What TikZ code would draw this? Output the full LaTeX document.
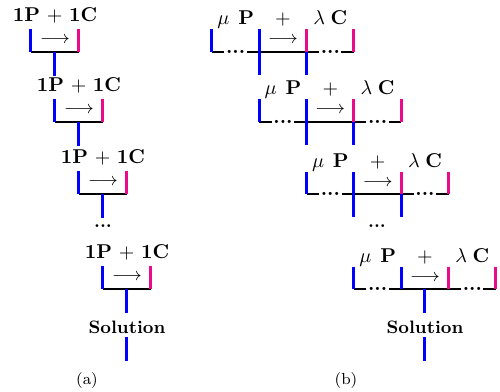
\documentclass[tikz,border=0pt]{standalone}
\usepackage{amsmath}
\definecolor{barpink}{RGB}{232,12,140}
\tikzset{
  bluebar/.style={draw=blue, line width=1.5pt},
  pinkbar/.style={draw=barpink, line width=1.5pt},
  blk/.style={draw=black, line width=1pt},
  lbl/.style={anchor=base, inner sep=0pt},
  albl/.style={anchor=base, inner sep=0pt},
  arrowlbl/.style={inner sep=0pt, font=\small},
  dotsn/.style={anchor=base, fill=white, inner xsep=0.8pt, inner ysep=1pt},
  capn/.style={font=\footnotesize, inner sep=0pt}
}
\begin{document}
\begin{tikzpicture}[x=0.5pt, y=-0.5pt]
\useasboundingbox (0,0) rectangle (500,392);
% ---------------- (a) ----------------
\foreach \i/\L/\T/\B in {1/31/29/51.5, 2/55/99/122, 3/79/171/194, 4/103/266/289} {
  \coordinate (a\i Lt) at (\L,\T);
  \coordinate (a\i Lb) at (\L,\B);
  \coordinate (a\i Rt) at (\L+48,\T);
  \coordinate (a\i Rb) at (\L+48,\B);
  \coordinate (a\i M) at (\L+24,\B);
  \coordinate (a\i O) at (\L+24,\B+24);
  \node[albl] (a\i txt) at (\L+24,\T-8) {$\mathbf{1P}\mkern2mu+\mkern2mu\mathbf{1C}$};
  \node[arrowlbl] (a\i arr) at (\L+24,\T+11) {$\longrightarrow$};
  \draw[blk] (a\i Lb) -- (a\i Rb);
  \draw[bluebar] (a\i Lt) -- (a\i Lb);
  \draw[pinkbar] (a\i Rt) -- (a\i Rb);
  \draw[bluebar] (a\i M) -- (a\i O);
}
\node[inner sep=0pt, font=\small] (adots) at (103,226) {\textbf{...}};
\node[inner sep=0pt, font=\small] (asol) at (127,327) {\textbf{Solution}};
\coordinate (asolt) at (127,337);
\coordinate (asolb) at (127,361);
\draw[bluebar] (asolt) -- (asolb);
\node[capn] (acap) at (87,380) {(a)};
% ---------------- (b) ----------------
\def\u{47.33}
\foreach \i/\X/\T/\B in {1/212/29/52, 2/259.33/99/122, 3/306.67/172/194, 4/354/267/289} {
  \coordinate (b\i At) at (\X,\T);
  \coordinate (b\i Ab) at (\X,\B);
  \coordinate (b\i Bt) at (\X+\u,\T);
  \coordinate (b\i Bb) at (\X+\u,\B);
  \coordinate (b\i Ct) at (\X+2*\u,\T);
  \coordinate (b\i Cb) at (\X+2*\u,\B);
  \coordinate (b\i Dt) at (\X+3*\u,\T);
  \coordinate (b\i Db) at (\X+3*\u,\B);
  \node[lbl] (b\i mu) at (\X+0.5*\u,\T-4.5) {$\mu\;\,\mathbf{P}$};
  \node[lbl] (b\i plus) at (\X+1.5*\u,\T-4.5) {$+$};
  \node[lbl] (b\i la) at (\X+2.5*\u,\T-4.5) {$\lambda\;\mathbf{C}$};
  \node[arrowlbl] (b\i arr) at (\X+1.5*\u,\T+11) {$\longrightarrow$};
  \draw[blk] (b\i Ab) -- (b\i Db);
  \node[dotsn] (b\i d1) at (\X+0.5*\u,\B+1.6) {\textbf{...}};
  \node[dotsn] (b\i d2) at (\X+2.5*\u,\B+1.6) {\textbf{...}};
  \draw[bluebar] (b\i At) -- (b\i Ab);
  \draw[bluebar] (b\i Bt) -- (b\i Bb);
  \draw[pinkbar] (b\i Ct) -- (b\i Cb);
  \draw[pinkbar] (b\i Dt) -- (b\i Db);
}
\foreach \i/\X/\B in {1/212/52, 2/259.33/122, 3/306.67/194} {
  \coordinate (b\i Bo) at (\X+\u,\B+23);
  \coordinate (b\i Co) at (\X+2*\u,\B+23);
  \draw[bluebar] (b\i Bb) -- (b\i Bo);
  \draw[bluebar] (b\i Cb) -- (b\i Co);
}
\coordinate (b4M) at (425,289);
\coordinate (b4O) at (425,313);
\draw[bluebar] (b4M) -- (b4O);
\node[inner sep=0pt, font=\small] (bdots) at (377,226) {\textbf{...}};
\node[inner sep=0pt, font=\small] (bsol) at (425,327) {\textbf{Solution}};
\coordinate (bsolt) at (425,337);
\coordinate (bsolb) at (425,361);
\draw[bluebar] (bsolt) -- (bsolb);
\node[capn] (bcap) at (346,380) {(b)};
\end{tikzpicture}
\end{document}
